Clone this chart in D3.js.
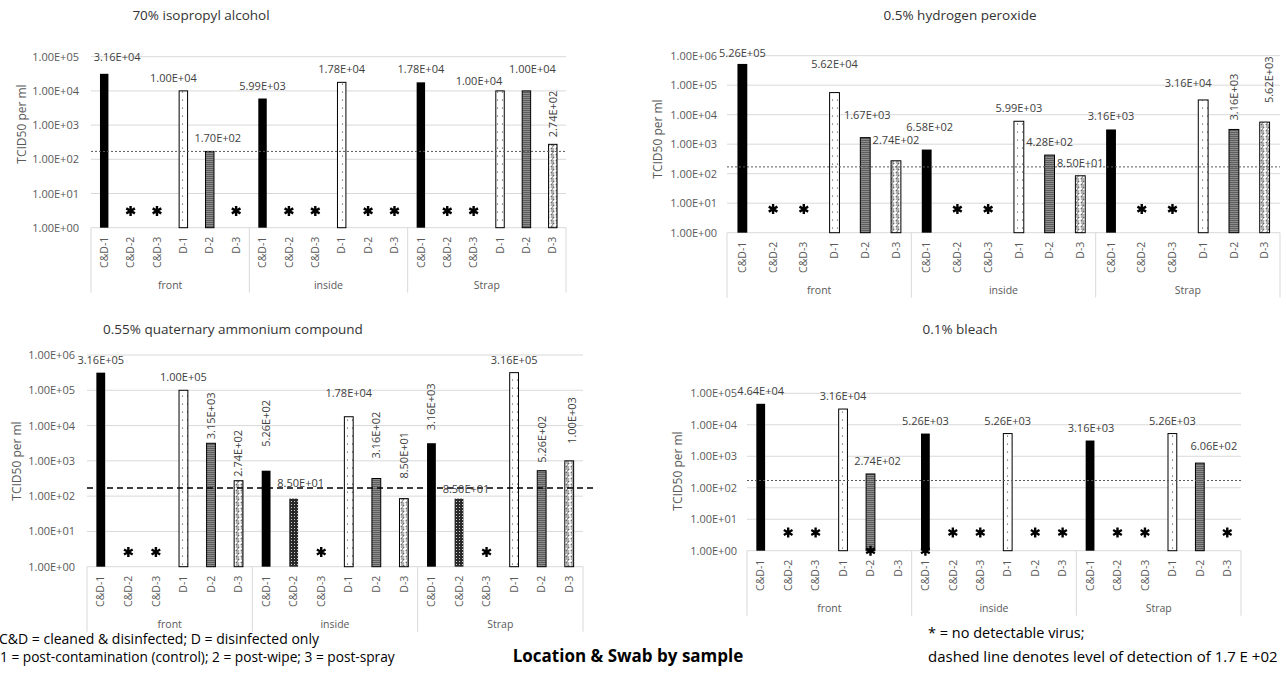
<!DOCTYPE html>
<html>
<head>
<meta charset="utf-8">
<script src="https://cdn.jsdelivr.net/npm/d3@7"></script>
<style>
  body { margin: 0; background: #fff; }
  text { font-family: "Open Sans", sans-serif; }
</style>
</head>
<body>
<svg id="chart" width="1286" height="677"></svg>
<script>
// ---- data ----
var groups = ["front", "inside", "Strap"];
var samples = ["C&D-1", "C&D-2", "C&D-3", "D-1", "D-2", "D-3"];
var ticksAll = [1, 10, 100, 1000, 10000, 100000, 1000000];
var detectionLevel = 170;

var ipaValues    = [3.16e4, null, null, 1.00e4, 1.70e2, null,  5.99e3, null, null, 1.78e4, null, null,  1.78e4, null, null, 1.00e4, 1.00e4, 2.74e2];
var h2o2Values   = [5.26e5, null, null, 5.62e4, 1.67e3, 2.74e2, 6.58e2, null, null, 5.99e3, 4.28e2, 8.50e1, 3.16e3, null, null, 3.16e4, 3.16e3, 5.62e3];
var quatValues   = [3.16e5, null, null, 1.00e5, 3.15e3, 2.74e2, 5.26e2, 8.50e1, null, 1.78e4, 3.16e2, 8.50e1, 3.16e3, 8.50e1, null, 3.16e5, 5.26e2, 1.00e3];
var bleachValues = [4.64e4, null, null, 3.16e4, 2.74e2, null,  5.26e3, null, null, 5.26e3, null, null,  3.16e3, null, null, 5.26e3, 6.06e2, null];

// asterisks: category index list ("no detectable virus")
var ipaStars    = [1, 2, 5, 7, 8, 10, 11, 13, 14];
var h2o2Stars   = [1, 2, 7, 8, 13, 14];
var quatStars   = [1, 2, 8, 14];
var bleachStars = [1, 2, 7, 8, 10, 11, 13, 14, 17];
var bleachBaseStars = [4, 6];

// ---- layout ----
var panels = [
  { title: "70% isopropyl alcohol", values: ipaValues, stars: ipaStars, starAt: 3.1, base: [],
    max: 1e5, x0: 91, x1: 566, yTop: 56.7, yBot: 227.7, tickX: 79,
    titleX: 201, titleY: 20, yTitleX: 22, yTitleY: 124, bold: false,
    adj: {0: {dx: 13, dy: -4}, 3: {dx: -10}, 4: {dx: 8}, 15: {dx: -21, dy: 3}, 16: {dx: 6, dy: -9}, 17: {rot: 7}} },
  { title: "0.5% hydrogen peroxide", values: h2o2Values, stars: h2o2Stars, starAt: 6.3, base: [],
    max: 1e6, x0: 727, x1: 1280, yTop: 55.7, yBot: 232.7, tickX: 717,
    titleX: 960, titleY: 20, yTitleX: 658, yTitleY: 139, bold: false,
    adj: {0: {dy: 2}, 3: {dy: -16}, 4: {dx: 2, dy: -10}, 5: {dy: -8}, 6: {dx: 3, dy: -10}, 15: {dx: -15, dy: -4}, 16: {rot: 9}, 17: {rot: 19, dx: 5}} },
  { title: "0.55% quaternary ammonium compound", values: quatValues, stars: quatStars, starAt: 2.6, base: [],
    max: 1e6, x0: 87, x1: 583, yTop: 355, yBot: 566.7, tickX: 75,
    titleX: 233, titleY: 334, yTitleX: 17, yTitleY: 461, bold: true,
    adj: {4: {rot: 4}, 5: {rot: 4}, 6: {rot: 24}, 7: {dx: 7, dy: -3}, 9: {dy: -11}, 10: {rot: 20}, 11: {rot: 20}, 12: {rot: 13}, 13: {dx: 7, dy: 3}, 16: {rot: 8}, 17: {rot: 17, dx: 3}} },
  { title: "0.1% bleach", values: bleachValues, stars: bleachStars, starAt: 3.8, base: bleachBaseStars,
    max: 1e5, x0: 747, x1: 1241, yTop: 393.3, yBot: 550.7, tickX: 737,
    titleX: 960, titleY: 334, yTitleX: 678, yTitleY: 471, bold: false,
    adj: {4: {dx: 7}, 12: {dx: 1}, 16: {dx: 14, dy: -4}} }
];

function sci(v) {
  var s = d3.format(".2e")(v).split("e");
  var n = +s[1];
  return s[0] + "E" + (n < 0 ? "-" : "+") + String(Math.abs(n)).padStart(2, "0");
}

var svg = d3.select("#chart");
var defs = svg.append("defs");

// fill patterns
var p = defs.append("pattern").attr("id", "pCheck").attr("patternUnits", "userSpaceOnUse")
  .attr("width", 3).attr("height", 3);
p.append("rect").attr("width", 3).attr("height", 3).attr("fill", "#2a2a2a");
p.append("rect").attr("width", 1).attr("height", 1).attr("fill", "#cfcfcf");

p = defs.append("pattern").attr("id", "pDots").attr("patternUnits", "userSpaceOnUse")
  .attr("width", 5).attr("height", 8);
p.append("rect").attr("width", 5).attr("height", 8).attr("fill", "#fff");
p.append("circle").attr("cx", 2.5).attr("cy", 4).attr("r", 0.6).attr("fill", "#222");

p = defs.append("pattern").attr("id", "pGrey").attr("patternUnits", "userSpaceOnUse")
  .attr("width", 2).attr("height", 2);
p.append("rect").attr("width", 2).attr("height", 2).attr("fill", "#8c8c8c");
p.append("rect").attr("width", 2).attr("height", 1).attr("fill", "#5e5e5e");

p = defs.append("pattern").attr("id", "pZig").attr("patternUnits", "userSpaceOnUse")
  .attr("width", 5).attr("height", 6);
p.append("rect").attr("width", 5).attr("height", 6).attr("fill", "#fff");
p.append("path").attr("d", "M0.8,1 H4.2 L0.8,5 H4.2").attr("fill", "none")
  .attr("stroke", "#333").attr("stroke-width", 0.8);

var fills = ["#000", "url(#pCheck)", "url(#pCheck)", "url(#pDots)", "url(#pGrey)", "url(#pZig)"];

panels.forEach(function (cfg) {
  var g = svg.append("g");
  var n = groups.length * samples.length;

  var x = d3.scaleBand().domain(d3.range(n)).range([cfg.x0, cfg.x1])
    .paddingInner(0.68).paddingOuter(0.34);
  var y = d3.scaleLog().domain([1, cfg.max]).range([cfg.yBot, cfg.yTop]);
  var step = x.step();
  var cx = function (i) { return x(i) + x.bandwidth() / 2; };
  var ticks = ticksAll.filter(function (t) { return t <= cfg.max; });
  var catBottom = cfg.yBot + 65;

  // title
  g.append("text").attr("x", cfg.titleX).attr("y", cfg.titleY)
    .attr("text-anchor", "middle").style("font-size", "13.5px").attr("fill", "#333")
    .text(cfg.title);

  // gridlines
  g.selectAll(".grid").data(ticks).enter().append("line")
    .attr("x1", cfg.x0).attr("x2", cfg.x1)
    .attr("y1", function (d) { return y(d); }).attr("y2", function (d) { return y(d); })
    .attr("stroke", "#d9d9d9").attr("stroke-width", 1);

  // y axis
  var ya = g.append("g").attr("transform", "translate(" + cfg.x0 + ",0)")
    .call(d3.axisLeft(y).tickValues(ticks).tickFormat(sci).tickSize(0).tickPadding(cfg.x0 - cfg.tickX));
  ya.select(".domain").remove();
  ya.selectAll("text").style("font-size", "11px").style("font-family", "'Open Sans', sans-serif").attr("fill", "#595959");

  g.append("text")
    .attr("transform", "translate(" + cfg.yTitleX + "," + cfg.yTitleY + ") rotate(-90)")
    .attr("text-anchor", "middle").attr("dy", "0.35em")
    .style("font-size", "12px").attr("fill", "#595959").text("TCID50 per ml");

  // category axis (rotated sample names)
  var xa = g.append("g").attr("transform", "translate(0," + cfg.yBot + ")")
    .call(d3.axisBottom(x).tickSize(0).tickFormat(function (i) { return samples[i % samples.length]; }));
  xa.select(".domain").remove();
  xa.selectAll("text")
    .attr("transform", "rotate(-90)").attr("x", -9).attr("y", 0).attr("dy", "0.35em")
    .style("text-anchor", "end").style("font-size", "10.5px")
    .style("font-family", "'Open Sans', sans-serif").attr("fill", "#595959");

  // group boxes + labels
  d3.range(groups.length + 1).forEach(function (k) {
    var gx = cfg.x0 + k * samples.length * step;
    g.append("line").attr("x1", gx).attr("x2", gx).attr("y1", cfg.yBot).attr("y2", catBottom)
      .attr("stroke", "#d9d9d9");
  });
  g.selectAll(".grp").data(groups).enter().append("text")
    .attr("x", function (d, k) { return cfg.x0 + (k + 0.5) * samples.length * step; })
    .attr("y", catBottom - 4).attr("text-anchor", "middle")
    .style("font-size", "10.5px").attr("fill", "#595959").text(function (d) { return d; });

  // bars
  var bars = cfg.values.map(function (v, i) { return {v: v, i: i}; }).filter(function (d) { return d.v != null; });
  g.selectAll(".bar").data(bars).enter().append("rect")
    .attr("x", function (d) { return x(d.i); })
    .attr("y", function (d) { return y(d.v); })
    .attr("width", x.bandwidth())
    .attr("height", function (d) { return cfg.yBot - y(d.v); })
    .attr("fill", function (d) { return fills[d.i % 6]; })
    .attr("stroke", function (d) { return d.i % 6 >= 3 ? "#000" : "none"; })
    .attr("stroke-width", 1);

  // detection line
  g.append("line")
    .attr("x1", cfg.x0).attr("x2", cfg.bold ? cfg.x1 + 13 : cfg.x1)
    .attr("y1", y(detectionLevel)).attr("y2", y(detectionLevel))
    .attr("stroke", cfg.bold ? "#000" : "#595959")
    .attr("stroke-width", cfg.bold ? 1.5 : 1)
    .attr("stroke-dasharray", cfg.bold ? "6,4" : "2,2");

  // value labels
  bars.forEach(function (d) {
    var a = cfg.adj[d.i] || {};
    var t = g.append("text").style("font-size", "11px").attr("fill", "#404040").text(sci(d.v));
    if (a.rot != null) {
      t.attr("transform", "translate(" + (cx(d.i) + (a.dx || 0)) + "," + (y(d.v) - a.rot) + ") rotate(-90)")
        .attr("dy", "0.35em").attr("text-anchor", "start");
    } else {
      t.attr("x", cx(d.i) + (a.dx || 0)).attr("y", y(d.v) - 9 + (a.dy || 0))
        .attr("text-anchor", "middle");
    }
  });

  // asterisks
  var star = d3.symbol().type(d3.symbolAsterisk).size(70);
  var starData = cfg.stars.map(function (i) { return {i: i, v: cfg.starAt}; })
    .concat(cfg.base.map(function (i) { return {i: i, v: 1}; }));
  g.selectAll(".star").data(starData).enter().append("path")
    .attr("d", star)
    .attr("transform", function (d) { return "translate(" + cx(d.i) + "," + y(d.v) + ")"; })
    .attr("stroke", "#000").attr("stroke-width", 2.4).attr("fill", "none");
});

// footnotes
var notes = svg.append("g").style("font-size", "14px").attr("fill", "#000");
notes.append("text").attr("x", -1).attr("y", 644).text("C&D = cleaned & disinfected; D = disinfected only");
notes.append("text").attr("x", 0).attr("y", 662).text("1 = post-contamination (control); 2 = post-wipe; 3 = post-spray")
  .style("font-size", "13.7px");
notes.append("text").attr("x", 928).attr("y", 638).text("* = no detectable virus;").style("font-size", "14.5px");
notes.append("text").attr("x", 928).attr("y", 662).text("dashed line denotes level of detection of 1.7 E +02")
  .style("font-size", "15px");

svg.append("text").attr("x", 628).attr("y", 662).attr("text-anchor", "middle")
  .style("font-size", "17px").style("font-weight", "bold").attr("fill", "#000")
  .text("Location & Swab by sample");
</script>
</body>
</html>
